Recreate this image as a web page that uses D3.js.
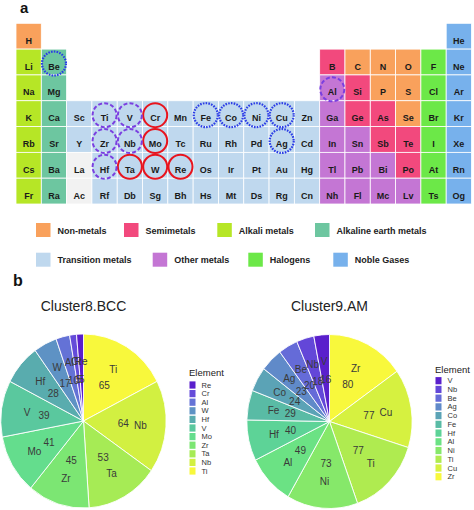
<!DOCTYPE html>
<html><head><meta charset="utf-8">
<script src="https://cdn.jsdelivr.net/npm/d3@7"></script>
<style>
html,body{margin:0;padding:0;background:#fff;}
svg{display:block;font-family:"Liberation Sans",Arial,sans-serif;}
</style></head>
<body>
<svg id="chart" width="474" height="510"></svg>
<script>
// ---------- DATA ----------
const period1 = ["H","","","","","","","","","","","","","","","","","He"];
const period2 = ["Li","Be","","","","","","","","","","","B","C","N","O","F","Ne"];
const period3 = ["Na","Mg","","","","","","","","","","","Al","Si","P","S","Cl","Ar"];
const period4 = ["K","Ca","Sc","Ti","V","Cr","Mn","Fe","Co","Ni","Cu","Zn","Ga","Ge","As","Se","Br","Kr"];
const period5 = ["Rb","Sr","Y","Zr","Nb","Mo","Tc","Ru","Rh","Pd","Ag","Cd","In","Sn","Sb","Te","I","Xe"];
const period6 = ["Cs","Ba","La","Hf","Ta","W","Re","Os","Ir","Pt","Au","Hg","Tl","Pb","Bi","Po","At","Rn"];
const period7 = ["Fr","Ra","Ac","Rf","Db","Sg","Bh","Hs","Mt","Ds","Rg","Cn","Nh","Fl","Mc","Lv","Ts","Og"];
const periods = [period1,period2,period3,period4,period5,period6,period7];

const nonMetals = ["H","C","N","O","P","S","Se"];
const semimetals = ["B","Si","Ge","As","Sb","Te","Po"];
const alkaliMetals = ["Li","Na","K","Rb","Cs","Fr"];
const alkalineEarth = ["Be","Mg","Ca","Sr","Ba","Ra"];
const otherMetals = ["Al","Ga","In","Sn","Tl","Pb","Bi","Nh","Fl","Mc","Lv"];
const halogens = ["F","Cl","Br","I","At","Ts"];
const nobleGases = ["He","Ne","Ar","Kr","Xe","Rn","Og"];
const lanthActin = ["La","Ac"];

const categoryNames = ["Non-metals","Semimetals","Alkali metals","Alkaline earth metals","Transition metals","Other metals","Halogens","Noble Gases"];

const bothClusters = ["Ti","V","Zr","Nb","Hf","Al"];
const bccOnly = ["Cr","Mo","Ta","W","Re"];
const amOnly = ["Be","Fe","Co","Ni","Cu","Ag"];

const bccElements = ["Ti","Nb","Ta","Zr","Mo","V","Hf","W","Al","Cr","Re"];
const bccCounts   = [65,64,53,45,41,39,28,17,10,5,5];
const amElements  = ["Zr","Cu","Ti","Ni","Al","Hf","Fe","Co","Ag","Be","Nb","V"];
const amCounts    = [80,77,77,73,49,40,29,24,23,20,18,16];

// ---------- STYLE ----------
const catColors = {
  "Non-metals":"#F9A15C","Semimetals":"#F2497D","Alkali metals":"#B6E626",
  "Alkaline earth metals":"#6DC6A0","Transition metals":"#BFD8EE","Other metals":"#C476D4",
  "Halogens":"#6CE848","Noble Gases":"#77B1EC","LaAc":"#F2F2F2"
};
function categoryOf(s){
  if(nonMetals.includes(s)) return "Non-metals";
  if(semimetals.includes(s)) return "Semimetals";
  if(alkaliMetals.includes(s)) return "Alkali metals";
  if(alkalineEarth.includes(s)) return "Alkaline earth metals";
  if(otherMetals.includes(s)) return "Other metals";
  if(halogens.includes(s)) return "Halogens";
  if(nobleGases.includes(s)) return "Noble Gases";
  if(lanthActin.includes(s)) return "LaAc";
  return "Transition metals";
}

const svg = d3.select("#chart");

// ---------- PANEL a : periodic table ----------
svg.append("text").attr("x",20).attr("y",13).attr("font-size",15).attr("font-weight","bold").attr("fill","#111").text("a");

const cells = [];
periods.forEach((row,ri)=>row.forEach((s,ci)=>{ if(s) cells.push({s,row:ri+1,col:ci+1}); }));

const x = d3.scaleBand().domain(d3.range(1,19)).range([16,471.5]).padding(0);
const y = d3.scaleBand().domain(d3.range(1,8)).range([23.3,204]).padding(0);
const bw = x.bandwidth(), bh = y.bandwidth();

const gT = svg.append("g");
gT.selectAll("rect.cell").data(cells).join("rect")
  .attr("x",d=>x(d.col)).attr("y",d=>y(d.row)).attr("width",bw).attr("height",bh)
  .attr("fill",d=>catColors[categoryOf(d.s)]).attr("stroke","#fff").attr("stroke-width",0.8);
gT.selectAll("text.sym").data(cells).join("text")
  .attr("x",d=>x(d.col)+bw/2).attr("y",d=>y(d.row)+bh/2+7.5)
  .attr("text-anchor","middle").attr("font-size",9).attr("font-weight","bold").attr("fill","#1a1a1a")
  .text(d=>d.s);

function circles(list, color, dash, width){
  gT.selectAll(null).data(cells.filter(c=>list.includes(c.s))).join("circle")
    .attr("cx",d=>x(d.col)+bw/2).attr("cy",d=>y(d.row)+bh/2+1.5).attr("r",12)
    .attr("fill","none").attr("stroke",color).attr("stroke-width",width)
    .attr("stroke-dasharray",dash);
}
circles(bccOnly,"#E8141E",null,2);
circles(bothClusters,"#7A3FE0","4,2.2",2);
circles(amOnly,"#2B3CE6","1.6,1.2",2.2);

// legend
const legPos = [[36,223],[124,223],[217.3,223],[315,223],[36,252.7],[152.7,252.7],[248.3,252.7],[333.3,252.7]];
const gL = svg.append("g");
categoryNames.forEach((n,i)=>{
  const [lx,ly] = legPos[i];
  gL.append("rect").attr("x",lx).attr("y",ly).attr("width",14.5).attr("height",14).attr("fill",catColors[n]);
  gL.append("text").attr("x",lx+21.5).attr("y",ly+10.5).attr("font-size",9).attr("font-weight","bold").attr("fill","#222").text(n);
});

// ---------- PANEL b : pies ----------
svg.append("text").attr("x",13).attr("y",285.5).attr("font-size",16).attr("font-weight","bold").attr("fill","#111").text("b");

const stops = ["#5A1FCC","#6A5FE2","#5E90C8","#57B2A6","#5CDE96","#7AE870","#C4EC40","#F8F83C"];
const interp = d3.interpolateRgbBasis(stops);

function drawPie(cx, cy, title, names, counts, legX, legTitleY, legFirstY, legStep){
  const n = names.length;
  const color = d3.scaleOrdinal().domain(names).range(names.map((_,i)=>interp(1 - i/(n-1))));
  const R = 87, sx = 0.95;
  const data = names.map((e,i)=>({e, v:counts[i]}));
  const pie = d3.pie().sort(null).value(d=>d.v);
  const arcs = pie(data);
  const arc = d3.arc().innerRadius(0).outerRadius(R);
  const g = svg.append("g").attr("transform",`translate(${cx},${cy})`);
  g.append("g").attr("transform",`scale(${sx},1)`).selectAll("path").data(arcs).join("path")
    .attr("d",arc).attr("fill",d=>color(d.data.e)).attr("stroke","#fff").attr("stroke-width",0.9);
  const pos = (a,r)=>{const m=(a.startAngle+a.endAngle)/2; return [sx*r*Math.sin(m), -r*Math.cos(m)];};
  g.selectAll("text.nm").data(arcs).join("text")
    .attr("x",d=>pos(d,60)[0]).attr("y",d=>pos(d,60)[1]+3.5)
    .attr("text-anchor","middle").attr("font-size",10).attr("fill","#3a3a3a").text(d=>d.data.e);
  g.selectAll("text.val").data(arcs).join("text")
    .attr("x",d=>pos(d,42)[0]).attr("y",d=>pos(d,42)[1]+3.5)
    .attr("text-anchor","middle").attr("font-size",10).attr("fill","#3a3a3a").text(d=>d.data.v);
  svg.append("text").attr("x",cx).attr("y",310.5).attr("text-anchor","middle").attr("font-size",14).attr("fill","#222").text(title);
  // legend
  const lg = svg.append("g");
  lg.append("text").attr("x",legX).attr("y",legTitleY+3.5).attr("font-size",9.5).attr("fill","#222").text("Element");
  const order = names.slice().reverse();
  const ly = d3.scalePoint().domain(order).range([legFirstY, legFirstY+legStep*(n-1)]);
  lg.selectAll("rect").data(order).join("rect")
    .attr("x",legX+0.5).attr("y",d=>ly(d)-3.6).attr("width",6).attr("height",7.2).attr("fill",d=>color(d));
  lg.selectAll("text.li").data(order).join("text")
    .attr("x",legX+12.5).attr("y",d=>ly(d)+2.6).attr("font-size",7.5).attr("fill","#333").text(d=>d);
}
drawPie(83.5, 421, "Cluster8.BCC", bccElements, bccCounts, 189, 372, 385, 8.6);
drawPie(329.5, 421.5, "Cluster9.AM", amElements, amCounts, 435, 369, 380.7, 8.73);
</script>
</body></html>
